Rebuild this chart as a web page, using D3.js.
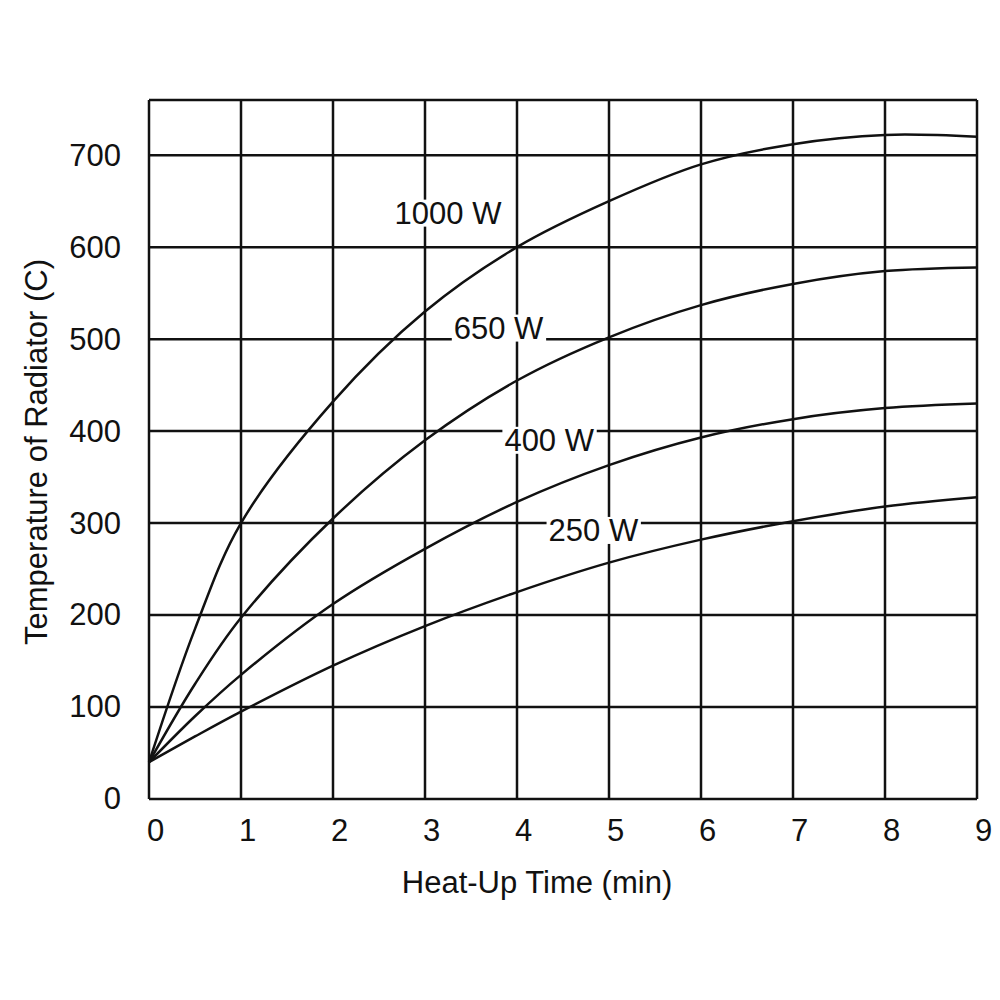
<!DOCTYPE html>
<html><head><meta charset="utf-8">
<script src="https://cdn.jsdelivr.net/npm/d3@7"></script>
<style>body{margin:0;background:#fff}svg{font-family:"Liberation Sans",Arial,sans-serif}</style>
</head><body><svg id="c" width="1000" height="1000"></svg>
<script>
const times=[0,0.5,1,2,3,4,5,6,7,8,9];
const w1000=[40,185,300,432,530,600,650,690,712,722,720];
const w650=[40,125,197,305,390,455,502,537,560,574,578];
const w400=[40,90,135,212,272,323,363,393,413,425,430];
const w250=[40,68,95,145,188,225,257,282,302,318,328];
const seriesNames=["1000 W","650 W","400 W","250 W"];
const labelX=[3.25,3.8,4.35,4.83];
const labelY=[637,512,390,292];
const xTicks=[0,1,2,3,4,5,6,7,8,9];
const yTicks=[0,100,200,300,400,500,600,700];
const all=[w1000,w650,w400,w250];
const svg=d3.select("#c");
const x=d3.scaleLinear().domain([0,9]).range([149,977]);
const y=d3.scaleLinear().domain([0,760]).range([799,100]);
const g=svg.append("g");
xTicks.forEach(t=>g.append("line").attr("x1",x(t)).attr("x2",x(t)).attr("y1",y(0)).attr("y2",y(760)).attr("stroke","#111").attr("stroke-width",2.5));
yTicks.concat([760]).forEach(t=>g.append("line").attr("x1",x(0)).attr("x2",x(9)).attr("y1",y(t)).attr("y2",y(t)).attr("stroke","#111").attr("stroke-width",2.5));
const xa=svg.append("g").attr("transform",`translate(0,${y(0)})`).call(d3.axisBottom(x).tickValues(xTicks).tickSize(0).tickPadding(20));
const ya=svg.append("g").attr("transform",`translate(${x(0)},0)`).call(d3.axisLeft(y).tickValues(yTicks).tickSize(0).tickPadding(28));
[xa,ya].forEach(a=>{a.select(".domain").remove();a.attr("font-size",31).attr("font-family","Liberation Sans, Arial, sans-serif");a.selectAll("text").attr("fill","#111");});
xa.selectAll("text").attr("dx",6);
const line=d3.line().x((d,i)=>x(times[i])).y(d=>y(d)).curve(d3.curveCatmullRom.alpha(0.5));
all.forEach(s=>svg.append("path").attr("d",line(s)).attr("fill","none").attr("stroke","#111").attr("stroke-width",2.5));
seriesNames.forEach((n,i)=>{
  const lg=svg.append("g");
  const t=lg.append("text").attr("x",x(labelX[i])).attr("y",y(labelY[i])).attr("text-anchor","middle").attr("dominant-baseline","central").attr("font-size",31).attr("fill","#111").text(n);
  const b=t.node().getBBox();
  lg.insert("rect",":first-child").attr("x",b.x-2).attr("y",b.y+4).attr("width",b.width+4).attr("height",b.height-8).attr("fill","#fff");
});
svg.append("text").attr("x",537).attr("y",893).attr("text-anchor","middle").attr("font-size",31).attr("fill","#111").text("Heat-Up Time (min)");
svg.append("text").attr("transform","translate(47,452) rotate(-90)").attr("text-anchor","middle").attr("font-size",31).attr("fill","#111").text("Temperature of Radiator (C)");
</script></body></html>
